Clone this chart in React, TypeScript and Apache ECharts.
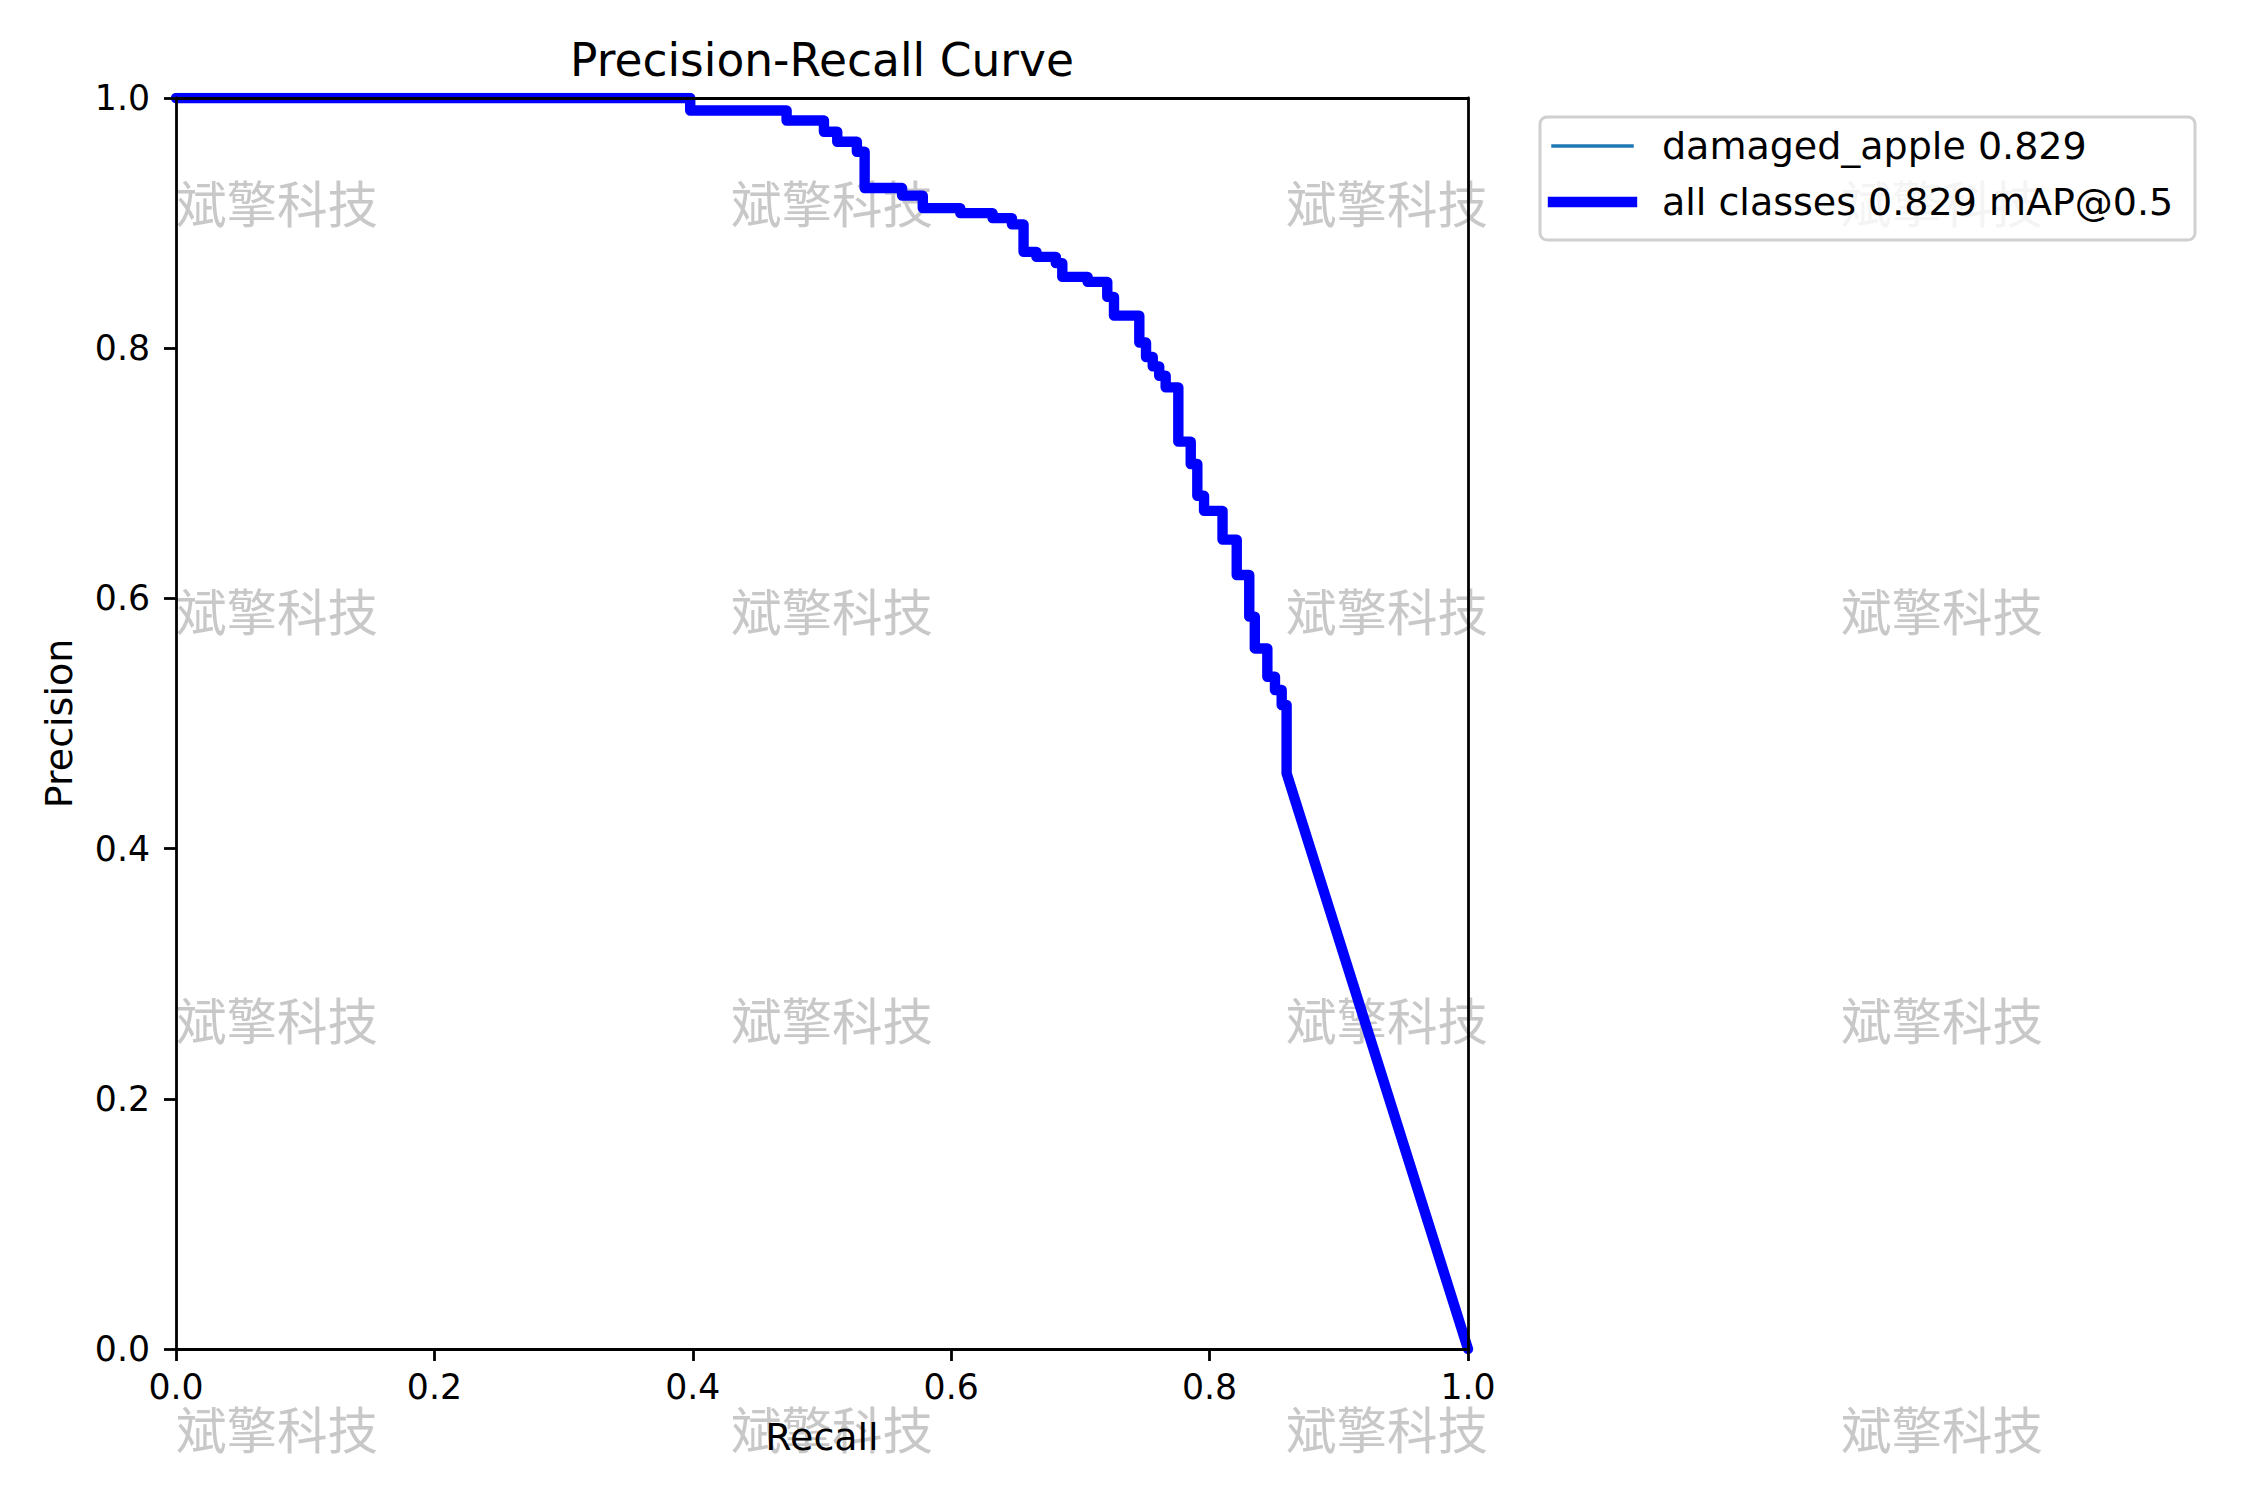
import React, { useEffect, useRef } from "react";
import * as echarts from "echarts";

// ---- data ----
const recallSteps = [
  0.398, 0.4726, 0.5015, 0.5118, 0.527, 0.533, 0.562, 0.578, 0.607, 0.632,
  0.647, 0.656, 0.666, 0.681, 0.686, 0.7056, 0.7208, 0.726, 0.7456, 0.7508,
  0.756, 0.761, 0.766, 0.7758, 0.7854, 0.7905, 0.7957, 0.81, 0.821, 0.8307,
  0.835, 0.8447, 0.8506, 0.8558, 0.8596,
];
const precisionLevels = [
  0.99, 0.982, 0.973, 0.965, 0.957, 0.928, 0.922, 0.912, 0.908, 0.904,
  0.899, 0.877, 0.873, 0.868, 0.857, 0.853, 0.841, 0.826, 0.8045, 0.793,
  0.7855, 0.778, 0.7687, 0.7253, 0.7074, 0.682, 0.67, 0.647, 0.6187, 0.5854,
  0.56, 0.5374, 0.5268, 0.5148, 0.4602,
];
const curveStart = [0.0, 1.0];
const curveEnd = [1.0, 0.0];
const axisMin = 0;
const axisMax = 1;
const axisInterval = 0.2;
const seriesNames = ["damaged_apple 0.829", "all classes 0.829 mAP@0.5"];
const titleText = "Precision-Recall Curve";
const xAxisName = "Recall";
const yAxisName = "Precision";
const watermarkText = "斌擎科技";

function buildCurve(): number[][] {
  const pts: number[][] = [curveStart.slice()];
  let prev = curveStart[1];
  for (let i = 0; i < recallSteps.length; i++) {
    pts.push([recallSteps[i], prev]);
    pts.push([recallSteps[i], precisionLevels[i]]);
    prev = precisionLevels[i];
  }
  pts.push(curveEnd.slice());
  return pts;
}

const FONT = "DejaVu Sans";
const TICK_FS = 34.7;
const LABEL_FS = 38;
const TITLE_FS = 45.5;

export default function App() {
  const ref = useRef<HTMLDivElement>(null);

  useEffect(() => {
    document.body.style.margin = "0";
    if (!ref.current) return;
    const chart = echarts.init(ref.current, null, { renderer: "svg" });
    const curve = buildCurve();

    const plotLeft = 176;
    const plotTop = 98;
    const plotW = 1292;
    const plotH = 1251;

    const wmCols = [277, 832, 1387, 1942];
    const wmRows = [201, 609, 1018, 1427];
    const watermarks: any[] = [];
    wmRows.forEach((y) =>
      wmCols.forEach((x) =>
        watermarks.push({
          type: "text",
          x,
          y,
          z: 1,
          silent: true,
          style: {
            text: watermarkText,
            fontSize: 50.5,
            fontFamily: "Noto Sans CJK SC",
            fill: "#c8c8c8",
            align: "center",
            verticalAlign: "middle",
          },
        })
      )
    );

    const legendX = 1540;
    const legendY = 117;
    const legend: any[] = [
      {
        type: "rect",
        z: 100,
        shape: { x: legendX, y: legendY, width: 655, height: 123, r: 7 },
        style: { fill: "rgba(255,255,255,0.8)", stroke: "#d0d0d0", lineWidth: 3 },
      },
      {
        type: "line",
        z: 101,
        shape: { x1: 1553, y1: 146, x2: 1632, y2: 146 },
        style: { stroke: "#1f77b4", lineWidth: 3.5, lineCap: "square" },
      },
      {
        type: "line",
        z: 101,
        shape: { x1: 1553, y1: 202, x2: 1632, y2: 202 },
        style: { stroke: "#0000ff", lineWidth: 10.4, lineCap: "square" },
      },
      {
        type: "text",
        z: 101,
        x: 1662,
        y: 146,
        style: {
          text: seriesNames[0],
          fontSize: LABEL_FS,
          fontFamily: FONT,
          fill: "#000",
          align: "left",
          verticalAlign: "middle",
        },
      },
      {
        type: "text",
        z: 101,
        x: 1662,
        y: 202,
        style: {
          text: seriesNames[1],
          fontSize: LABEL_FS,
          fontFamily: FONT,
          fill: "#000",
          align: "left",
          verticalAlign: "middle",
        },
      },
    ];

    const title = {
      type: "text",
      z: 100,
      x: plotLeft + plotW / 2,
      y: 60,
      style: {
        text: titleText,
        fontSize: TITLE_FS,
        fontFamily: FONT,
        fill: "#000",
        align: "center",
        verticalAlign: "middle",
      },
    };

    const axisLineStyle = { color: "#000", width: 2.8 };
    const fmt = (v: number) => v.toFixed(1);

    const option: any = {
      animation: false,
      backgroundColor: "#fff",
      grid: { left: plotLeft, top: plotTop, width: plotW, height: plotH, show: false },
      xAxis: [
        {
          type: "value",
          min: axisMin,
          max: axisMax,
          interval: axisInterval,
          position: "bottom",
          z: 10,
          name: xAxisName,
          nameLocation: "middle",
          nameGap: 69,
          nameTextStyle: { fontSize: LABEL_FS, fontFamily: FONT, color: "#000" },
          axisLine: { show: true, onZero: false, lineStyle: axisLineStyle },
          axisTick: { show: true, length: 12, lineStyle: axisLineStyle },
          axisLabel: { show: true, margin: 20, fontSize: TICK_FS, fontFamily: FONT, color: "#000", formatter: fmt },
          splitLine: { show: false },
        },
        {
          type: "value",
          min: axisMin,
          max: axisMax,
          interval: axisInterval,
          position: "top",
          z: 10,
          axisLine: { show: true, onZero: false, lineStyle: axisLineStyle },
          axisTick: { show: false },
          axisLabel: { show: false },
          splitLine: { show: false },
        },
      ],
      yAxis: [
        {
          type: "value",
          min: axisMin,
          max: axisMax,
          interval: axisInterval,
          position: "left",
          z: 10,
          name: yAxisName,
          nameLocation: "middle",
          nameGap: 98,
          nameTextStyle: { fontSize: LABEL_FS, fontFamily: FONT, color: "#000" },
          axisLine: { show: true, onZero: false, lineStyle: axisLineStyle },
          axisTick: { show: true, length: 12, lineStyle: axisLineStyle },
          axisLabel: { show: true, margin: 26, fontSize: TICK_FS, fontFamily: FONT, color: "#000", formatter: fmt },
          splitLine: { show: false },
        },
        {
          type: "value",
          min: axisMin,
          max: axisMax,
          interval: axisInterval,
          position: "right",
          z: 10,
          axisLine: { show: true, onZero: false, lineStyle: axisLineStyle },
          axisTick: { show: false },
          axisLabel: { show: false },
          splitLine: { show: false },
        },
      ],
      series: [
        {
          name: seriesNames[0],
          type: "line",
          xAxisIndex: 0,
          yAxisIndex: 0,
          data: curve,
          showSymbol: false,
          symbol: "none",
          clip: true,
          silent: true,
          z: 2,
          lineStyle: { color: "#1f77b4", width: 3.5 },
        },
        {
          name: seriesNames[1],
          type: "line",
          xAxisIndex: 0,
          yAxisIndex: 0,
          data: curve,
          showSymbol: false,
          symbol: "none",
          clip: true,
          silent: true,
          z: 3,
          lineStyle: { color: "#0000ff", width: 10.4, join: "round", cap: "round" },
        },
      ],
      graphic: { elements: [...watermarks, title, ...legend] },
    };

    chart.setOption(option);
    return () => chart.dispose();
  }, []);

  return <div ref={ref} style={{ width: 2250, height: 1500 }} />;
}
